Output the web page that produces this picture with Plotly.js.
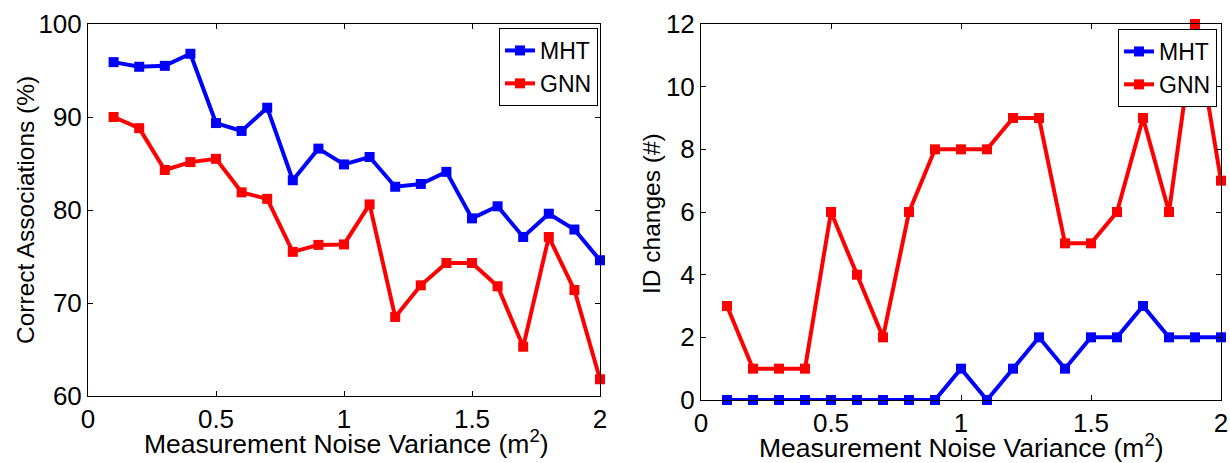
<!DOCTYPE html>
<html>
<head>
<meta charset="utf-8">
<script src="https://cdn.plot.ly/plotly-3.0.1.min.js"></script>
<style>html,body{margin:0;padding:0;background:#fff;}#chart{width:1230px;height:463px;}</style>
</head>
<body>
<div id="chart"></div>
<script>
const noiseVariance = [0.1,0.2,0.3,0.4,0.5,0.6,0.7,0.8,0.9,1.0,1.1,1.2,1.3,1.4,1.5,1.6,1.7,1.8,1.9,2.0];
const mhtCorrect = [95.9,95.4,95.5,96.8,89.35,88.5,91.0,83.2,86.6,84.9,85.7,82.5,82.8,84.1,79.1,80.4,77.1,79.6,77.9,74.6];
const gnnCorrect = [90.0,88.8,84.3,85.15,85.5,81.9,81.2,75.5,76.25,76.3,80.6,68.5,71.9,74.3,74.3,71.8,65.3,77.1,71.4,61.8];
const mhtIdChanges = [0,0,0,0,0,0,0,0,0,1,0,1,2,1,2,2,3,2,2,2];
const gnnIdChanges = [3,1,1,1,6,4,2,6,8,8,8,9,9,5,5,6,9,6,12,7];
const seriesNames = ['MHT','GNN'];
const xTicks = [0,0.5,1,1.5,2];
const xTickText = ['0','0.5','1','1.5','2'];
const xTitleText = 'Measurement Noise Variance (m<sup>2</sup>)';
const yTitleLeft = 'Correct Associations (%)';
const yTitleRight = 'ID changes (#)';

const FONT = 'Liberation Sans, Arial, sans-serif';
const BLUE = '#0000ff', RED = '#ff0000';
const W = 1230, H = 463;

function tr(x, y, name, color, xa, ya, leg) {
  return {
    x: x, y: y, name: name, type: 'scatter', mode: 'lines+markers',
    xaxis: xa, yaxis: ya, legend: leg, cliponaxis: false,
    line: {color: color, width: 4},
    marker: {color: color, symbol: 'square', size: 10}
  };
}

const data = [
  tr(noiseVariance, mhtCorrect, seriesNames[0], BLUE, 'x', 'y', 'legend'),
  tr(noiseVariance, gnnCorrect, seriesNames[1], RED, 'x', 'y', 'legend'),
  tr(noiseVariance, mhtIdChanges, seriesNames[0], BLUE, 'x2', 'y2', 'legend2'),
  tr(noiseVariance, gnnIdChanges, seriesNames[1], RED, 'x2', 'y2', 'legend2')
];

const axBase = {
  showgrid: false, zeroline: false, showline: true, linecolor: '#000', linewidth: 1,
  mirror: 'ticks', ticks: 'inside', ticklen: 5, tickwidth: 1, tickcolor: '#000',
  tickfont: {family: FONT, size: 26, color: '#000'}, automargin: false
};

const legBase = {
  bgcolor: '#fff', bordercolor: '#000', borderwidth: 1,
  font: {family: FONT, size: 23, color: '#000'},
  xanchor: 'right', yanchor: 'top', itemwidth: 30, tracegroupgap: 0
};

function ann(text, px, py, size, angle, xanchor, yanchor) {
  return {text: text, xref: 'paper', yref: 'paper', x: px / W, y: 1 - py / H,
    xanchor: xanchor, yanchor: yanchor, showarrow: false, textangle: angle, borderpad: 0,
    font: {family: FONT, size: size, color: '#000'}};
}

const layout = {
  width: W, height: H,
  margin: {l: 0, r: 0, t: 0, b: 0},
  paper_bgcolor: '#fff', plot_bgcolor: '#fff',
  showlegend: true,
  xaxis: Object.assign({}, axBase, {domain: [88/W, 600/W], range: [0, 2], tickvals: xTicks, ticktext: xTickText, anchor: 'y'}),
  yaxis: Object.assign({}, axBase, {domain: [67/H, 439/H], range: [60, 100], dtick: 10, anchor: 'x'}),
  xaxis2: Object.assign({}, axBase, {domain: [701/W, 1221/W], range: [0, 2], tickvals: xTicks, ticktext: xTickText, anchor: 'y2'}),
  yaxis2: Object.assign({}, axBase, {domain: [63/H, 439/H], range: [0, 12], dtick: 2, anchor: 'x2'}),
  legend: Object.assign({}, legBase, {x: 598/W, y: 1 - 28/H}),
  legend2: Object.assign({}, legBase, {x: 1217/W, y: 1 - 29/H}),
  annotations: [
    ann(yTitleLeft, 25, 210, 24.5, -90, 'center', 'middle'),
    ann(yTitleRight, 652, 213, 24.5, -90, 'center', 'middle'),
    ann(xTitleText, 346, 460, 26.5, 0, 'center', 'bottom'),
    ann(xTitleText, 961, 464, 26.5, 0, 'center', 'bottom')
  ]
};

Plotly.newPlot('chart', data, layout, {displayModeBar: false, staticPlot: true});
</script>
</body>
</html>
